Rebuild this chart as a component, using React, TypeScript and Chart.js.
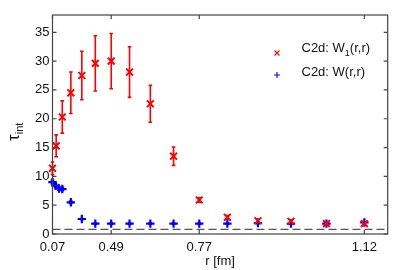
import React, { useEffect, useRef } from 'react';
import { Chart, registerables } from 'chart.js';

Chart.register(...registerables);

// r values in fm (x axis is linear in r^2)
const redR = [0.07, 0.14, 0.21, 0.28, 0.35, 0.42, 0.49, 0.56, 0.63, 0.70, 0.77, 0.84, 0.91, 0.98, 1.05, 1.12];
const redTau = [11.4, 15.3, 20.3, 24.5, 27.5, 29.6, 30.0, 28.1, 22.6, 13.5, 5.9, 2.9, 2.3, 2.2, 1.8, 1.8];
const redErr = [1.1, 1.9, 2.8, 3.6, 4.2, 4.8, 4.8, 4.4, 3.2, 1.6, 0.4, 0.3, 0.3, 0.2, 0.2, 0.2];

const blueR = [0.07, 0.13, 0.175, 0.21, 0.28, 0.35, 0.42, 0.49, 0.56, 0.63, 0.70, 0.77, 0.84, 0.91, 0.98, 1.05, 1.12];
const blueTau = [9.0, 8.4, 7.9, 7.8, 5.5, 2.6, 1.8, 1.8, 1.8, 1.8, 1.8, 1.8, 1.8, 1.9, 1.8, 1.8, 2.0];
const blueErr = [0.3, 0.3, 0.3, 0.3, 0.2, 0.1, 0.1, 0.1, 0.1, 0.1, 0.1, 0.1, 0.1, 0.1, 0.1, 0.1, 0.1];

const xTickR = [0.07, 0.49, 0.77, 1.12];
const xTickLabels = ['0.07', '0.49', '0.77', '1.12'];
const yTicks = [0, 5, 10, 15, 20, 25, 30, 35];
const xMaxR2 = 1.348;
const yMax = 38;
const dashedLevel = 0.8;

const legendLabels = [
  { main: 'C2d: W', sub: '1', rest: '(r,r)', color: '#ff0000', style: 'x' },
  { main: 'C2d: W', sub: '', rest: '(r,r)', color: '#0000ff', style: '+' },
];

const FONT = '"Liberation Sans", Arial, Helvetica, sans-serif';

const errors: Record<number, number[]> = { 0: redErr, 1: blueErr };

const overlay = {
  id: 'overlay',
  beforeDatasetsDraw(chart: any) {
    const { ctx, chartArea: a, scales } = chart;
    const xs = scales.x, ys = scales.y;
    ctx.save();
    ctx.strokeStyle = '#555';
    ctx.lineWidth = 1.3;
    ctx.setLineDash([8, 4]);
    const yd = ys.getPixelForValue(dashedLevel);
    ctx.beginPath();
    ctx.moveTo(a.left, yd);
    ctx.lineTo(a.right, yd);
    ctx.stroke();
    ctx.setLineDash([]);
    chart.data.datasets.forEach((ds: any, di: number) => {
      const errs = errors[di];
      ctx.strokeStyle = ds.borderColor;
      ctx.lineWidth = 1.6;
      ds.data.forEach((p: any, i: number) => {
        const e = errs[i];
        const x = xs.getPixelForValue(p.x);
        const y1 = ys.getPixelForValue(p.y + e);
        const y2 = ys.getPixelForValue(p.y - e);
        ctx.beginPath();
        ctx.moveTo(x, y1); ctx.lineTo(x, y2);
        ctx.moveTo(x - 1.8, y1); ctx.lineTo(x + 1.8, y1);
        ctx.moveTo(x - 1.8, y2); ctx.lineTo(x + 1.8, y2);
        ctx.stroke();
      });
    });
    ctx.restore();
  },
  afterDraw(chart: any) {
    const { ctx, chartArea: a, scales } = chart;
    const xs = scales.x, ys = scales.y;
    ctx.save();
    ctx.strokeStyle = '#444';
    ctx.lineWidth = 1.2;
    ctx.strokeRect(a.left, a.top, a.right - a.left, a.bottom - a.top);
    ctx.beginPath();
    xTickR.forEach((r) => {
      const x = xs.getPixelForValue(r * r);
      ctx.moveTo(x, a.bottom); ctx.lineTo(x, a.bottom - 4);
      ctx.moveTo(x, a.top); ctx.lineTo(x, a.top + 4);
    });
    yTicks.forEach((v) => {
      const y = ys.getPixelForValue(v);
      ctx.moveTo(a.left, y); ctx.lineTo(a.left + 4, y);
      ctx.moveTo(a.right, y); ctx.lineTo(a.right - 4, y);
    });
    ctx.stroke();

    // legend
    ctx.fillStyle = '#111';
    ctx.textBaseline = 'alphabetic';
    legendLabels.forEach((l, i) => {
      const my = 53 + i * 22;
      ctx.strokeStyle = l.color;
      ctx.lineWidth = 1.1;
      ctx.beginPath();
      if (l.style === 'x') {
        ctx.moveTo(274.5, my - 2.5); ctx.lineTo(279.5, my + 2.5);
        ctx.moveTo(274.5, my + 2.5); ctx.lineTo(279.5, my - 2.5);
      } else {
        ctx.moveTo(274, my); ctx.lineTo(280, my);
        ctx.moveTo(277, my - 3); ctx.lineTo(277, my + 3);
      }
      ctx.stroke();
      let tx = 301.5;
      const base = my - 1 + (i === 0 ? 0 : 2);
      ctx.font = `13px ${FONT}`;
      ctx.fillText(l.main, tx, base);
      tx += ctx.measureText(l.main).width;
      if (l.sub) {
        ctx.font = `9px ${FONT}`;
        ctx.fillText(l.sub, tx, base + 4);
        tx += ctx.measureText(l.sub).width;
        ctx.font = `13px ${FONT}`;
      }
      ctx.fillText(l.rest, tx, base);
    });

    // x title
    ctx.font = `13px ${FONT}`;
    ctx.textAlign = 'center';
    ctx.textBaseline = 'middle';
    ctx.fillText('r [fm]', (a.left + a.right) / 2, 261);

    // y title
    ctx.translate(19, 141);
    ctx.rotate(-Math.PI / 2);
    ctx.textAlign = 'left';
    ctx.textBaseline = 'alphabetic';
    ctx.font = `17px ${FONT}`;
    ctx.fillText('τ', 0, 0);
    const w = ctx.measureText('τ').width;
    ctx.font = `11px ${FONT}`;
    ctx.fillText('int', w, 4);
    ctx.restore();
  },
};

export default function App() {
  const ref = useRef<HTMLCanvasElement>(null);
  useEffect(() => {
    const chart = new Chart(ref.current as HTMLCanvasElement, {
      type: 'scatter',
      data: {
        datasets: [
          {
            label: 'C2d: W1(r,r)',
            data: redR.map((r, i) => ({ x: r * r, y: redTau[i] })),
            pointStyle: 'crossRot',
            pointRadius: 4.8,
            borderColor: '#ff0000',
            backgroundColor: '#ff0000',
            borderWidth: 2,
            showLine: false,
            clip: false,
          },
          {
            label: 'C2d: W(r,r)',
            data: blueR.map((r, i) => ({ x: r * r, y: blueTau[i] })),
            pointStyle: 'cross',
            pointRadius: 4.2,
            borderColor: '#0000ff',
            backgroundColor: '#0000ff',
            borderWidth: 2.2,
            showLine: false,
            clip: false,
          },
        ],
      },
      options: {
        responsive: false,
        animation: false,
        devicePixelRatio: 1,
        layout: { padding: { left: 0, top: 15, right: 9.3, bottom: 0 } },
        plugins: { legend: { display: false }, tooltip: { enabled: false } },
        scales: {
          x: {
            type: 'linear',
            min: xTickR[0] * xTickR[0],
            max: xMaxR2,
            grid: { display: false, drawTicks: false },
            border: { display: false },
            afterBuildTicks: (s: any) => {
              s.ticks = xTickR.map((r) => ({ value: r * r }));
            },
            afterFit: (s: any) => { s.height = 36; },
            ticks: {
              autoSkip: false,
              maxRotation: 0,
              padding: 6,
              color: '#111',
              font: { family: FONT, size: 13 },
              callback: (_v: any, i: number) => xTickLabels[i],
            },
          },
          y: {
            type: 'linear',
            min: 0,
            max: yMax,
            grid: { display: false, drawTicks: false },
            border: { display: false },
            afterBuildTicks: (s: any) => {
              s.ticks = yTicks.map((v) => ({ value: v }));
            },
            afterFit: (s: any) => { s.width = 52.5; },
            ticks: {
              padding: 3,
              color: '#111',
              font: { family: FONT, size: 13 },
              callback: (v: any) => String(v),
            },
          },
        },
      },
      plugins: [overlay],
    });
    return () => chart.destroy();
  }, []);
  return (
    <div style={{ position: 'fixed', left: 0, top: 0, width: 397, height: 270, background: '#fff' }}>
      <canvas ref={ref} width={397} height={270} style={{ display: 'block' }} />
    </div>
  );
}
